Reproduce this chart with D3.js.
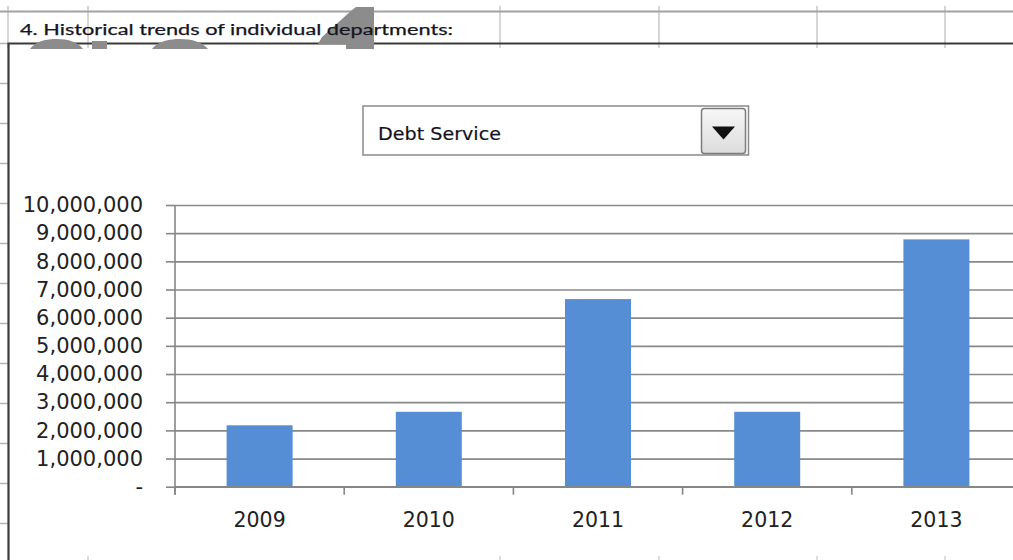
<!DOCTYPE html>
<html>
<head>
<meta charset="utf-8">
<script src="https://cdn.jsdelivr.net/npm/d3@7"></script>
<style>
  html, body { margin: 0; padding: 0; background: #fff; }
  svg { display: block; }
</style>
</head>
<body>
<svg id="chart" width="1013" height="560"></svg>
<script>
// Department spending by fiscal year
const years = ["2009", "2010", "2011", "2012", "2013"];
const debtService = [2180000, 2660000, 6660000, 2660000, 8780000];
const yTicks = [0, 1000000, 2000000, 3000000, 4000000, 5000000, 6000000, 7000000, 8000000, 9000000, 10000000];
const sheetTitle = "4. Historical trends of individual departments:";
const selectedDept = "Debt Service";

const svg = d3.select("#chart");
const W = 1013, H = 560;

svg.append("rect").attr("width", W).attr("height", H).attr("fill", "#fff");

// ---- worksheet background: cell borders around the embedded chart ----
const sheet = svg.append("g");
const colLines = [8, 88, 500, 659, 817, 945];
sheet.selectAll(".col").data(colLines).join("line")
  .attr("x1", d => d).attr("x2", d => d)
  .attr("y1", 6).attr("y2", 48)
  .attr("stroke", "#d6d6d6").attr("stroke-width", 2);
sheet.append("line").attr("x1", 0).attr("x2", W).attr("y1", 11.5).attr("y2", 11.5)
  .attr("stroke", "#a2a2a2").attr("stroke-width", 2);
// row lines peeking out left of the chart
const rowLines = d3.range(0, 13).map(i => 43.5 + 40 * i);
sheet.selectAll(".row").data(rowLines).join("line")
  .attr("x1", 0).attr("x2", 8).attr("y1", d => d).attr("y2", d => d)
  .attr("stroke", "#b4b4b4").attr("stroke-width", 1.5);
// column lines peeking out below
sheet.selectAll(".colb").data([88, 500, 659, 817, 945]).join("line")
  .attr("x1", d => d).attr("x2", d => d).attr("y1", 556).attr("y2", 560)
  .attr("stroke", "#d0d0d0").attr("stroke-width", 1.5);

// chart frame
svg.append("path").attr("d", `M8.5,${H} L8.5,43.5 L${W},43.5`)
  .attr("fill", "none").attr("stroke", "#3a3a3a").attr("stroke-width", 2.2);

// grey drawing shapes sitting on the heading row
const shapes = svg.append("g").attr("fill", "#8c8c8c");
shapes.append("path").attr("d", "M30,49 C36,41 46,39 57,39 C68,39 78,42 83,49 Z");
shapes.append("rect").attr("x", 92).attr("y", 41).attr("width", 15).attr("height", 8);
shapes.append("path").attr("d", "M152,49 C158,41 170,39 180,39 C192,39 202,42 208,49 Z");
shapes.append("path").attr("d", "M356,7 L374,7 L374,49 L346,49 L346,44 L318,44 L322,37 L352,10 Z");

svg.append("text")
  .attr("x", 20).attr("y", 34.5)
  .attr("font-family", "Lato, 'Open Sans', sans-serif")
  .attr("font-size", 15.5)
  .attr("fill", "#151522")
  .attr("stroke", "#151522").attr("stroke-width", 0.25)
  .attr("textLength", 433).attr("lengthAdjust", "spacingAndGlyphs")
  .text(sheetTitle);

// ---- dropdown selector ----
const dd = svg.append("g");
dd.append("rect").attr("x", 363).attr("y", 106).attr("width", 385.5).attr("height", 49)
  .attr("fill", "#fff").attr("stroke", "#8a8a8a").attr("stroke-width", 1.5);
dd.append("text").attr("x", 378).attr("y", 139.5)
  .attr("font-family", "'DejaVu Sans', sans-serif").attr("font-size", 18.5)
  .attr("fill", "#121220").attr("stroke", "#121220").attr("stroke-width", 0.2)
  .attr("textLength", 123).attr("lengthAdjust", "spacingAndGlyphs")
  .text(selectedDept);
const grad = svg.append("defs").append("linearGradient").attr("id", "btn")
  .attr("x1", 0).attr("x2", 0).attr("y1", 0).attr("y2", 1);
grad.append("stop").attr("offset", "0%").attr("stop-color", "#f7f7f7");
grad.append("stop").attr("offset", "100%").attr("stop-color", "#dcdcdc");
dd.append("rect").attr("x", 701.5).attr("y", 108.5).attr("width", 44).attr("height", 45)
  .attr("rx", 3).attr("fill", "url(#btn)").attr("stroke", "#7c7c7c").attr("stroke-width", 1.5);
dd.append("path").attr("d", "M712,126.5 L735,126.5 L723.5,139.5 Z").attr("fill", "#111");

// ---- column chart ----
const x0 = 175, yBase = 486.7, yTop = 205;
const x = d3.scaleBand().domain(years).range([x0, 1021]).paddingInner(0.61).paddingOuter(0.305);
const y = d3.scaleLinear().domain([0, 10000000]).range([yBase, yTop]);
const step = x.step();

const fmt = v => v === 0 ? "-" : d3.format(",")(v);

// horizontal gridlines
const grid = svg.append("g").attr("transform", `translate(${x0},0)`)
  .call(d3.axisLeft(y).tickValues(yTicks).tickSize(-(W - x0)).tickFormat(""));
grid.select(".domain").remove();
grid.selectAll(".tick line").attr("stroke", "#888888").attr("stroke-width", 1.7);

// bars
svg.append("g").selectAll("rect").data(years).join("rect")
  .attr("x", d => x(d))
  .attr("width", x.bandwidth())
  .attr("y", (d, i) => y(debtService[i]))
  .attr("height", (d, i) => yBase - y(debtService[i]))
  .attr("fill", "#558ed5");

// y axis with ticks and labels
const yAxis = svg.append("g").attr("transform", `translate(${x0},0)`)
  .call(d3.axisLeft(y).tickValues(yTicks).tickSize(9).tickPadding(23).tickFormat(fmt));
yAxis.select(".domain").attr("stroke", "#868686").attr("stroke-width", 1.6)
  .attr("d", `M0,${yTop}V${yBase + 8}`);
yAxis.selectAll(".tick line").attr("stroke", "#868686").attr("stroke-width", 1.6);
yAxis.selectAll(".tick text")
  .attr("font-family", "'DejaVu Sans', sans-serif").attr("font-size", 21)
  .attr("fill", "#222");

// x axis: line, category boundary ticks, labels
const xAxis = svg.append("g").attr("transform", `translate(0,${yBase})`)
  .call(d3.axisBottom(x).tickSize(0).tickPadding(26));
xAxis.select(".domain").attr("stroke", "#868686").attr("stroke-width", 1.6)
  .attr("d", `M${x0},0H${W}`);
xAxis.selectAll(".tick text")
  .attr("font-family", "'DejaVu Sans', sans-serif").attr("font-size", 20.5)
  .attr("fill", "#222");
xAxis.selectAll(".bound").data(years).join("line")
  .attr("class", "bound")
  .attr("x1", d => x(d) - (step - x.bandwidth()) / 2)
  .attr("x2", d => x(d) - (step - x.bandwidth()) / 2)
  .attr("y1", 0).attr("y2", 8)
  .attr("stroke", "#868686").attr("stroke-width", 1.6);
</script>
</body>
</html>
